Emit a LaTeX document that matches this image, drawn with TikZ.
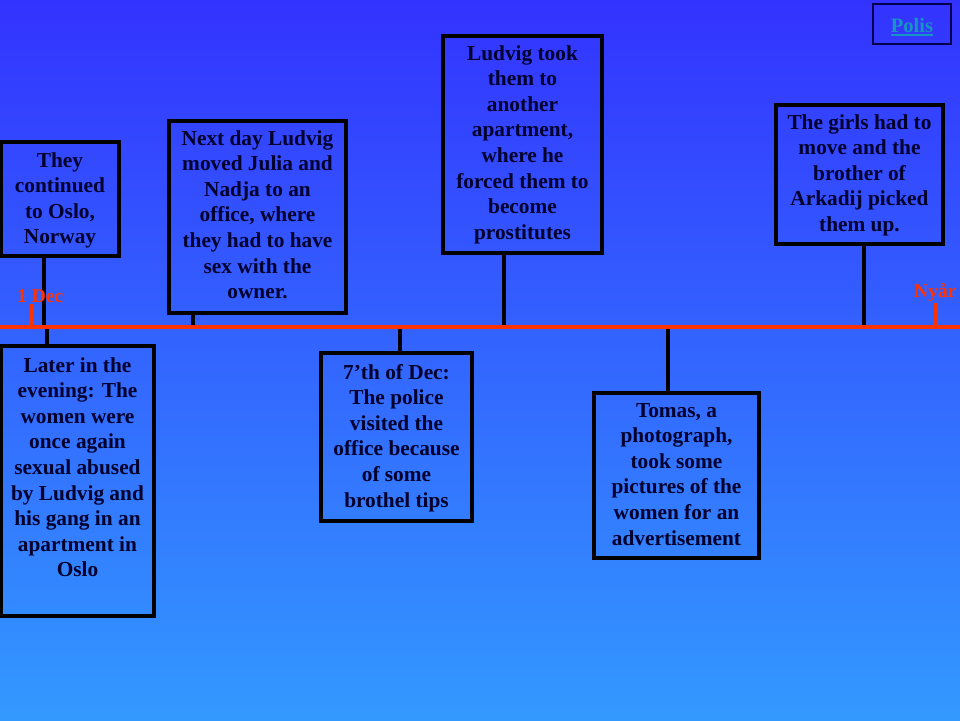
\documentclass[tikz,border=0pt]{standalone}
\usepackage{fontspec}
\setmainfont{Liberation Serif}
\definecolor{bgtop}{RGB}{51,51,255}
\definecolor{bgbot}{RGB}{51,153,255}
\definecolor{tlred}{RGB}{255,51,0}
\definecolor{txtnavy}{RGB}{0,0,45}
\definecolor{poliscol}{RGB}{20,150,190}
\definecolor{btnnavy}{RGB}{0,0,80}
\begin{document}
\begin{tikzpicture}[x=1pt,y=-1pt,
  evbox/.style={draw=black,line width=4pt,inner sep=0pt},
  evtext/.style={text=txtnavy,font=\bfseries\fontsize{21.33}{25.6}\selectfont,align=flush center,text width=220pt,inner sep=0pt,anchor=base},
  conn/.style={draw=black,line width=3.6pt},
  tickmark/.style={draw=tlred,line width=3.5pt},
  datelbl/.style={text=tlred,font=\bfseries\fontsize{19.5}{22}\selectfont,inner sep=0pt,anchor=base west}]
\useasboundingbox (0,0) rectangle (960,720);
\shade[top color=bgtop,bottom color=bgbot] (0,0) rectangle (960,720);

% boxes
\node[evbox,minimum width=118,minimum height=114] (b1) at (60,199) {};
\node[evbox,minimum width=177,minimum height=192] (b2) at (257.5,217) {};
\node[evbox,minimum width=159,minimum height=217] (b3) at (522.5,144.5) {};
\node[evbox,minimum width=167,minimum height=139] (b4) at (859.5,174.5) {};
\node[evbox,minimum width=153,minimum height=270] (b5) at (77.5,481) {};
\node[evbox,minimum width=151,minimum height=168] (b6) at (396.5,437) {};
\node[evbox,minimum width=165,minimum height=165] (b7) at (676.5,475.5) {};

% texts
\node[evtext] (t1) at (60,167) {They\\continued\\to Oslo,\\Norway};
\node[evtext] (t2) at (257.5,145) {Next day Ludvig\\moved Julia and\\Nadja to an\\office, where\\they had to have\\sex with the\\owner.};
\node[evtext] (t3) at (522.5,60) {Ludvig took\\them to\\another\\apartment,\\where he\\forced them to\\become\\prostitutes};
\node[evtext] (t4) at (859.5,129) {The girls had to\\move and the\\brother of\\Arkadij picked\\them up.};
\node[evtext] (t5) at (77.5,372) {Later in the\\evening: The\\women were\\once again\\sexual abused\\by Ludvig and\\his gang in an\\apartment in\\Oslo};
\node[evtext] (t6) at (396.5,379) {7’th of Dec:\\The police\\visited the\\office because\\of some\\brothel tips};
\node[evtext] (t7) at (676.5,417) {Tomas, a\\photograph,\\took some\\pictures of the\\women for an\\advertisement};

% timeline points
\coordinate (tlL) at (0,327);
\coordinate (tlR) at (960,327);
\coordinate (p1) at (44,327);
\coordinate (p2) at (193,327);
\coordinate (p3) at (504,327);
\coordinate (p4) at (864,327);
\coordinate (p5) at (47,327);
\coordinate (p6) at (400,327);
\coordinate (p7) at (668,327);
\coordinate (dec1) at (32,327);
\coordinate (dec1top) at (32,304);
\coordinate (nyar) at (936,327);
\coordinate (nyartop) at (936,303);

% connectors
\draw[conn] (b1.south -| p1) -- (p1);
\draw[conn] (b2.south -| p2) -- (p2);
\draw[conn] (b3.south -| p3) -- (p3);
\draw[conn] (b4.south -| p4) -- (p4);
\draw[conn] (p5) -- (b5.north -| p5);
\draw[conn] (p6) -- (b6.north -| p6);
\draw[conn] (p7) -- (b7.north -| p7);

% timeline
\draw[tlred,line width=4pt] (tlL) -- (tlR);
\draw[tickmark] (dec1) -- (dec1top);
\draw[tickmark] (nyar) -- (nyartop);
\node[datelbl] (l1) at (17,302) {1 Dec};
\node[datelbl] (l2) at (914,297) {Nyår};

% Polis button
\node[draw=btnnavy,line width=1.2pt,minimum width=78,minimum height=40,inner sep=0pt] (polis) at (912,24) {};
\node[text=poliscol,font=\bfseries\fontsize{20.5}{24}\selectfont,inner sep=0pt,anchor=base] (ptext) at (912,32) {Polis};
\draw[poliscol,line width=1.6pt] ([yshift=-3pt]ptext.base west) -- ([yshift=-3pt]ptext.base east);
\end{tikzpicture}
\end{document}
